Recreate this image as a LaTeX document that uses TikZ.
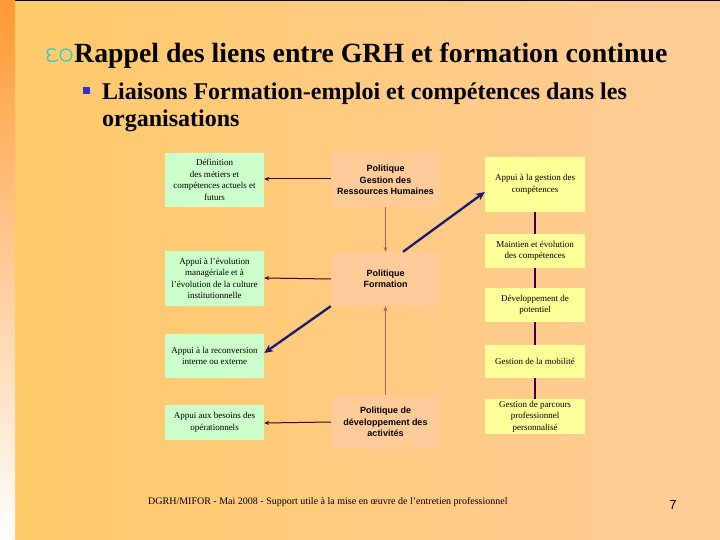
\documentclass[tikz,border=0pt]{standalone}
\usepackage{fontspec}
\setmainfont{Liberation Serif}
\newfontfamily\arialf{Liberation Sans}
\usetikzlibrary{arrows.meta}
\definecolor{bgl}{HTML}{FFCA68}
\definecolor{bgr}{HTML}{FFCC99}
\definecolor{stripc}{HTML}{FF9933}
\definecolor{greenbox}{HTML}{CCFFCC}
\definecolor{centrebox}{HTML}{FFCC99}
\definecolor{yellowbox}{HTML}{FFFF99}
\definecolor{thinarrow}{HTML}{330033}
\definecolor{vertarrow}{HTML}{996666}
\definecolor{navy}{HTML}{1A1A70}
\definecolor{linkc}{HTML}{330055}
\definecolor{bulletblue}{HTML}{3333CC}
\definecolor{iconcyan}{HTML}{33CCCC}
\tikzset{
  box/.style={rectangle, inner sep=1pt, align=center, font=\fontsize{9}{11.5}\selectfont},
  greenb/.style={box, fill=greenbox, minimum width=99pt},
  centreb/.style={box, fill=centrebox, minimum width=109pt, minimum height=54pt, font=\arialf\bfseries\fontsize{9}{11.5}\selectfont},
  yellowb/.style={box, fill=yellowbox, minimum width=100pt},
  thin/.style={draw=thinarrow, line width=1pt, -{Stealth[length=5pt,width=4pt]}},
  vert/.style={draw=vertarrow, line width=1pt, -{Stealth[length=5pt,width=4pt]}},
  thick/.style={draw=navy, line width=2.3pt, -{Stealth[length=9pt,width=8pt]}},
  link/.style={draw=linkc, line width=1.3pt}
}
\begin{document}
\begin{tikzpicture}[x=1pt,y=-1pt]
\useasboundingbox (0,0) rectangle (720,540);
\shade[left color=bgl,right color=bgr] (0,0) rectangle (720,540);
\shade[top color=stripc,bottom color=white] (0,0) rectangle (15,540);
\fill[black] (15,0) rectangle (720,1.5);
% icon
\draw[iconcyan, line width=1.3pt] (56,50) .. controls (48,46) and (44,52) .. (50,55) .. controls (44,58) and (48,64) .. (58,60);
\draw[iconcyan, line width=1.3pt] (66,49) .. controls (58,49) and (58,61) .. (66,61) .. controls (74,61) and (74,49) .. (66,49);
% title
\node[anchor=base west, inner sep=0pt, font=\bfseries\fontsize{27.8}{32}\selectfont] (title) at (74,63) {Rappel des liens entre GRH et formation continue};
\fill[bulletblue] (83,87) rectangle (90,94);
\node[anchor=base west, inner sep=0pt, font=\bfseries\fontsize{24}{27}\selectfont] (sub1) at (102,100) {Liaisons Formation-emploi et compétences dans les};
\node[anchor=base west, inner sep=0pt, font=\bfseries\fontsize{24}{27}\selectfont] (sub2) at (102,127) {organisations};
% left boxes
\node[greenb, minimum height=54pt] (B1) at (214.5,180) {Définition\\des métiers et\\compétences actuels et\\futurs};
\node[greenb, minimum height=55pt] (B2) at (214.5,278.5) {Appui à  l’évolution\\managériale et à\\l’évolution de la culture\\institutionnelle};
\node[greenb, minimum height=44pt] (B3) at (214.5,356) {Appui à  la reconversion\\interne ou externe};
\node[greenb, minimum height=35pt] (B4) at (214.5,422.5) {Appui aux besoins des\\opérationnels};
% centre boxes
\node[centreb] (C1) at (385.5,180) {Politique\\Gestion des\\Ressources Humaines};
\node[centreb] (C2) at (385.5,279) {Politique\\Formation};
\node[centreb] (C3) at (385.5,422) {Politique de\\développement des\\activités};
% right boxes
\node[yellowb, minimum height=55pt] (R1) at (535,184.5) {Appui à  la gestion des\\compétences};
\node[yellowb, minimum height=34pt] (R2) at (535,251) {Maintien et évolution\\des compétences};
\node[yellowb, minimum height=34pt] (R3) at (535,305) {Développement de\\potentiel};
\node[yellowb, minimum height=33pt] (R4) at (535,361.5) {Gestion de la mobilité};
\node[yellowb, minimum height=35pt] (R5) at (535,416.5) {Gestion de parcours\\professionnel\\personnalisé};
% connectors
\draw[thin] ([yshift=1pt]C1.west) -- ([yshift=1pt]B1.east);
\draw[thin] (C2.west) -- ([yshift=0.5pt]B2.east);
\draw[thin] (C3.west) -- ([yshift=-0.5pt]B4.east);
\draw[vert] (C1.south) -- (C2.north);
\draw[vert] (C3.north) -- (C2.south);
\draw[thick] ([xshift=17.5pt]C2.north) -- ([yshift=-7.5pt]R1.west);
\draw[thick] (C2.south west) -- ([yshift=3pt]B3.east);
\draw[link] (R1.south) -- (R2.north);
\draw[link] (R2.south) -- (R3.north);
\draw[link] (R3.south) -- (R4.north);
\draw[link] (R4.south) -- (R5.north);
% footer
\node[anchor=base west, inner sep=0pt, font=\fontsize{10}{11}\selectfont] (foot) at (148,504) {DGRH/MIFOR - Mai 2008 - Support utile à la mise en œuvre de l’entretien professionnel};
\node[anchor=base, inner sep=0pt, font=\arialf\fontsize{13}{15}\selectfont] (page) at (673,509) {7};
\end{tikzpicture}
\end{document}
